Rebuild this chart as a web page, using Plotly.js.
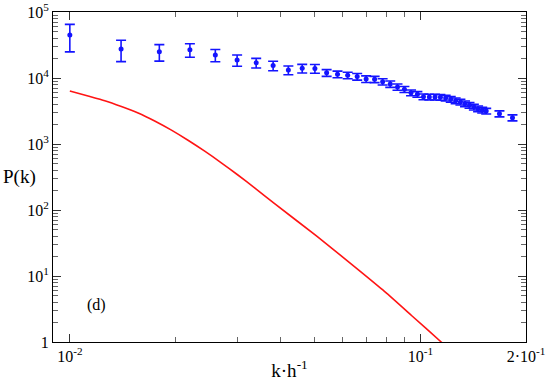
<!DOCTYPE html>
<html>
<head>
<meta charset="utf-8">
<script src="https://cdn.plot.ly/plotly-3.0.1.min.js"></script>
<style>
  html, body { margin: 0; padding: 0; background: #fff; }
  #useGraph { width: 549px; height: 381px; }
</style>
</head>
<body>
<div id="useGraph"></div>
<script>
// measured points (k, P(k)) with symmetric errors
const kData = [0.010, 0.014, 0.018, 0.022, 0.026, 0.030, 0.034, 0.038, 0.042, 0.046,
    0.050, 0.054, 0.058, 0.062, 0.066, 0.070, 0.074, 0.078, 0.082, 0.086,
    0.090, 0.094, 0.098, 0.102, 0.106, 0.110, 0.114, 0.118, 0.122, 0.126,
    0.130, 0.134, 0.138, 0.142, 0.146, 0.150, 0.154, 0.168, 0.183];
const pData = [44900, 27500, 25000, 26800, 22300, 18700, 17000, 15400, 13200, 14000,
    13900, 12000, 11400, 11000, 10500, 9660, 9550, 8790, 8110, 7310,
    6740, 5990, 5660, 5210, 5150, 5150, 5100, 4970, 4750, 4530,
    4330, 4080, 3860, 3640, 3430, 3280, 3160, 2880, 2500];
const pErr = [20000, 9800, 7000, 6200, 4700, 3600, 2800, 2500, 2000, 2100,
    2100, 1400, 1300, 1250, 1200, 1100, 1050, 950, 900, 800,
    700, 600, 560, 520, 510, 510, 500, 490, 470, 450,
    430, 400, 380, 360, 340, 325, 310, 300, 260];

// model curve
const kModel = [0.0100, 0.01127, 0.01258, 0.01403, 0.01566, 0.01746, 0.01949, 0.02173,
    0.02425, 0.02704, 0.03015, 0.03365, 0.03837, 0.0505, 0.06276, 0.0781, 0.0943, 0.1146, 0.125];
const pModel = [6350, 5340, 4530, 3700, 2950, 2230, 1620, 1138,
    778, 519, 339, 217, 125, 40.4, 16.0, 6.14, 2.52, 1.0, 0.66];

// axis ticks
const xTickVals = [0.01, 0.1, 0.2];
const xTickText = ['10<sup>-2</sup>', '10<sup>-1</sup>', '2·10<sup>-1</sup>'];
const xMinorVals = [0.02, 0.03, 0.04, 0.05, 0.06, 0.07, 0.08, 0.09];
const yTickVals = [1, 10, 100, 1000, 10000, 100000];
const yTickText = ['1', '10<sup>1</sup>', '10<sup>2</sup>', '10<sup>3</sup>', '10<sup>4</sup>', '10<sup>5</sup>'];
const yMinorVals = [];
[1, 10, 100, 1000, 10000].forEach(function (d) {
    for (let m = 2; m <= 9; m++) yMinorVals.push(d * m);
});

const dataTrace = {
    x: kData,
    y: pData,
    type: 'scatter',
    mode: 'markers',
    marker: { color: 'rgb(20,20,255)', size: 5 },
    error_y: { type: 'data', array: pErr, visible: true, color: 'rgb(20,20,255)', thickness: 1.6, width: 5 },
    showlegend: false
};
const modelTrace = {
    x: kModel,
    y: pModel,
    type: 'scatter',
    mode: 'lines',
    line: { color: 'rgb(255,20,20)', width: 1.6, shape: 'spline', smoothing: 0.6 },
    showlegend: false
};

const serif = 'Liberation Serif';
const axisCommon = {
    type: 'log',
    showgrid: false,
    zeroline: false,
    showline: true,
    linecolor: '#000',
    linewidth: 1,
    mirror: 'ticks',
    ticks: 'inside',
    ticklen: 8,
    tickwidth: 1,
    tickcolor: '#333',
    tickmode: 'array',
    tickfont: { family: serif, size: 16, color: '#000' }
};

const layout = {
    width: 549,
    height: 381,
    margin: { l: 53, r: 23, t: 12, b: 39 },
    paper_bgcolor: '#fff',
    plot_bgcolor: '#fff',
    font: { family: serif },
    xaxis: Object.assign({}, axisCommon, {
        range: [-2.048, -0.699],
        tickvals: xTickVals,
        ticktext: xTickText,
        minor: { tickmode: 'array', tickvals: xMinorVals, ticks: 'inside', ticklen: 5, tickcolor: '#666', showgrid: false },
        title: { text: 'k·h<sup>-1</sup>', font: { family: serif, size: 19, color: '#000' }, standoff: 4 }
    }),
    yaxis: Object.assign({}, axisCommon, {
        range: [0, 5],
        tickvals: yTickVals,
        ticktext: yTickText,
        minor: { tickmode: 'array', tickvals: yMinorVals, ticks: 'inside', ticklen: 5, tickcolor: '#666', showgrid: false }
    }),
    annotations: [
        { text: 'P(k)', xref: 'paper', yref: 'paper', x: -0.07, y: 0.5, xanchor: 'center', yanchor: 'middle',
          showarrow: false, font: { family: serif, size: 19, color: '#000' } },
        { text: '(d)', xref: 'paper', yref: 'paper', x: 0.093, y: 0.113, xanchor: 'center', yanchor: 'middle',
          showarrow: false, font: { family: serif, size: 16, color: '#000' } }
    ]
};

Plotly.newPlot('useGraph', [modelTrace, dataTrace], layout, { displayModeBar: false });
</script>
</body>
</html>
